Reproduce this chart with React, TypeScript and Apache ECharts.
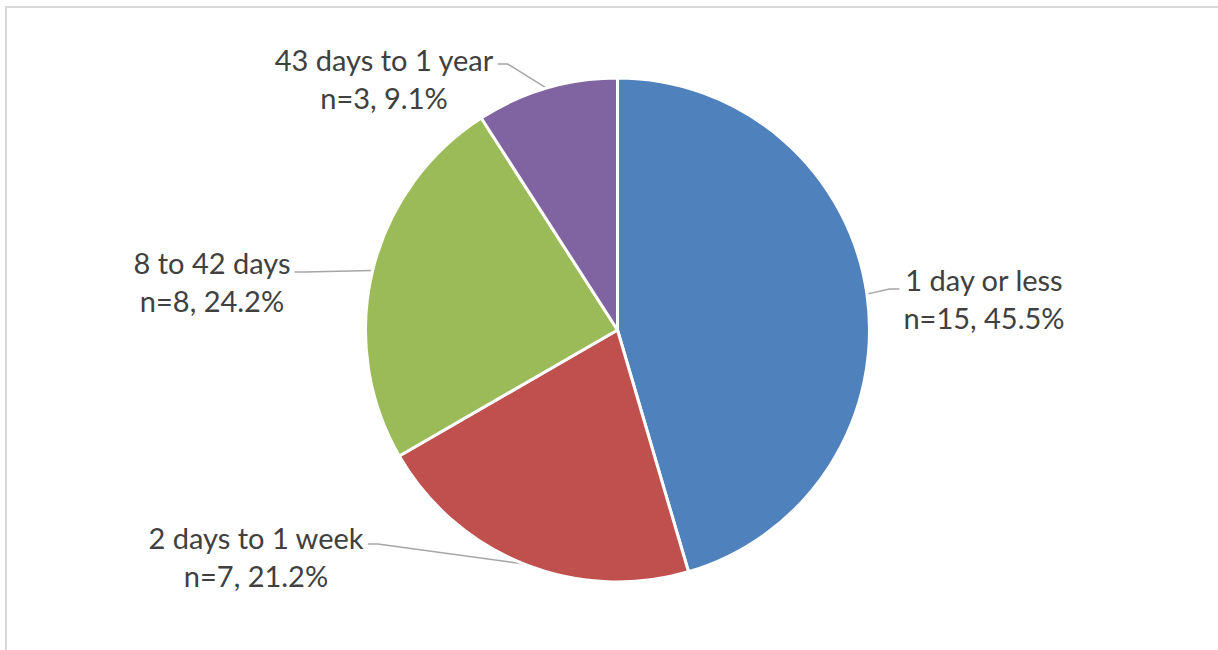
import React, { useEffect, useRef } from "react";
import * as echarts from "echarts";

const categories = ["1 day or less", "2 days to 1 week", "8 to 42 days", "43 days to 1 year"];
const counts = [15, 7, 8, 3];
const percents = ["45.5%", "21.2%", "24.2%", "9.1%"];
const colors = ["#4F81BD", "#C0504D", "#9BBB59", "#8064A2"];

// label anchor positions (layout only)
const labelPos = [
  [984, 298],
  [256, 556],
  [212, 281],
  [384, 78],
];
const leaderDy = [-9, -12, -9, -14];

const CX = 617.5;
const CY = 330;
const R = 252;

export default function App() {
  const ref = useRef<HTMLDivElement>(null);
  useEffect(() => {
    document.body.style.margin = "0";
    const chart = echarts.init(ref.current!, null, { renderer: "svg" });
    const total = counts.reduce((a, b) => a + b, 0);
    const cum: number[] = [];
    let acc = 0;
    counts.forEach((c) => {
      cum.push(acc + c / 2);
      acc += c;
    });
    chart.setOption({
      animation: false,
      backgroundColor: "#ffffff",
      graphic: [
        {
          type: "rect",
          shape: { x: 6, y: 7, width: 1400, height: 800 },
          style: { fill: "none", stroke: "#d9d9d9", lineWidth: 2 },
          silent: true,
        },
      ],
      series: [
        {
          type: "pie",
          center: [CX, CY],
          radius: [0, R],
          startAngle: 90,
          clockwise: true,
          itemStyle: { borderColor: "#ffffff", borderWidth: 3 },
          data: categories.map((name, i) => ({
            name,
            value: counts[i],
            itemStyle: { color: colors[i] },
          })),
          label: {
            show: true,
            position: "outside",
            formatter: (p: any) => `${p.name}\nn=${p.value}, ${percents[p.dataIndex]}`,
            fontFamily: "Lato, 'Open Sans', sans-serif",
            fontSize: 29,
            lineHeight: 38,
            color: "#404040",
            align: "center",
          },
          labelLine: {
            show: true,
            lineStyle: { color: "#A6A6A6", width: 1.5 },
          },
          labelLayout: (params: any) => {
            const i = params.dataIndex;
            const [lx, ly] = labelPos[i];
            const w = params.labelRect.width;
            const frac = cum[i] / total;
            const theta = frac * Math.PI * 2;
            const ex = CX + R * Math.sin(theta);
            const ey = CY - R * Math.cos(theta);
            const right = ex > CX;
            const attachX = right ? lx - w / 2 - 4 : lx + w / 2 + 4;
            const attachY = ly + leaderDy[i];
            const elbowX = right ? attachX - 10 : attachX + 10;
            return {
              x: lx,
              y: ly,
              align: "center",
              verticalAlign: "middle",
              labelLinePoints: [
                [ex, ey],
                [elbowX, attachY],
                [attachX, attachY],
              ],
            };
          },
        },
      ],
    });
    return () => chart.dispose();
  }, []);
  return (
    <div
      ref={ref}
      style={{ position: "absolute", left: 0, top: 0, width: 1218, height: 650 }}
    />
  );
}
